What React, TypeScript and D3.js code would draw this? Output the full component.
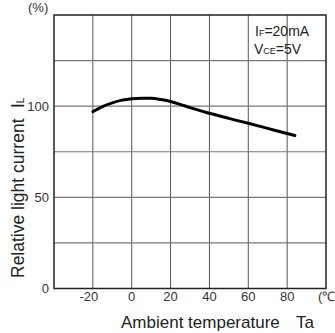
import React from "react";
import * as d3 from "d3";

const temps = [-20, -15, -10, -5, 0, 5, 10, 15, 20, 25, 30, 40, 50, 60, 70, 80, 84];
const values = [97, 99.8, 101.8, 103.3, 104.1, 104.4, 104.3, 103.6, 102.6, 101, 99.2, 96.1, 93.3, 90.6, 87.8, 85, 83.9];
const xTicks = [-20, 0, 20, 40, 60, 80];
const yGrid = [25, 50, 75, 100, 125];
const yLabels = [0, 50, 100];

export default function App() {
  const W = 335, H = 333;
  const x = d3.scaleLinear().domain([-40, 100]).range([54, 326]);
  const y = d3.scaleLinear().domain([0, 150]).range([288.5, 15]);
  const line = d3
    .line<number>()
    .x((_, i) => x(temps[i]))
    .y((v) => y(v))
    .curve(d3.curveMonotoneX);
  const font = "'Liberation Sans', Arial, sans-serif";
  return (
    <svg
      width={W}
      height={H}
      style={{ position: "absolute", left: 0, top: 0, background: "#fff" }}
      fontFamily={font}
    >
      {xTicks.map((t) => (
        <line key={"vx" + t} x1={x(t)} x2={x(t)} y1={y(0)} y2={y(150)} stroke="#555" strokeWidth={1} />
      ))}
      {yGrid.map((t) => (
        <line key={"hy" + t} x1={x(-40)} x2={x(100)} y1={y(t)} y2={y(t)} stroke="#777" strokeWidth={1.2} />
      ))}
      <rect x={x(-40)} y={y(150)} width={x(100) - x(-40)} height={y(0) - y(150)} fill="none" stroke="#222" strokeWidth={1.5} />
      <path d={line(values) || ""} fill="none" stroke="#000" strokeWidth={3} strokeLinecap="round" />
      {xTicks.map((t) => (
        <text key={"xl" + t} x={x(t) + (t < 0 ? -4 : 0)} y={301} fontSize={13} textAnchor="middle" fill="#333">
          {t < 0 ? "-" + Math.abs(t) : t}
        </text>
      ))}
      <text x={318} y={301} fontSize={13} textAnchor="start" fill="#333">(℃</text>
      {yLabels.map((t) => (
        <text key={"yl" + t} x={49} y={y(t) + 4.5} fontSize={13} textAnchor="end" fill="#333">
          {t}
        </text>
      ))}
      <text x={28} y={12} fontSize={13} fill="#333">(%)</text>
      <text x={121} y={328} fontSize={17} fill="#222">Ambient temperature</text>
      <text x={296} y={328} fontSize={17} fill="#222">Ta</text>
      <text transform="translate(24,278) rotate(-90)" fontSize={17.5} fill="#222">
        Relative light current
      </text>
      <text transform="translate(24,108) rotate(-90)" fontSize={17.5} fill="#222">
        I<tspan fontSize={10}>L</tspan>
      </text>
      <text x={255} y={36} fontSize={14} fill="#222">
        I<tspan fontSize={9}>F</tspan>=20mA
      </text>
      <text x={254} y={54} fontSize={14} fill="#222">
        V<tspan fontSize={9}>CE</tspan>=5V
      </text>
    </svg>
  );
}
